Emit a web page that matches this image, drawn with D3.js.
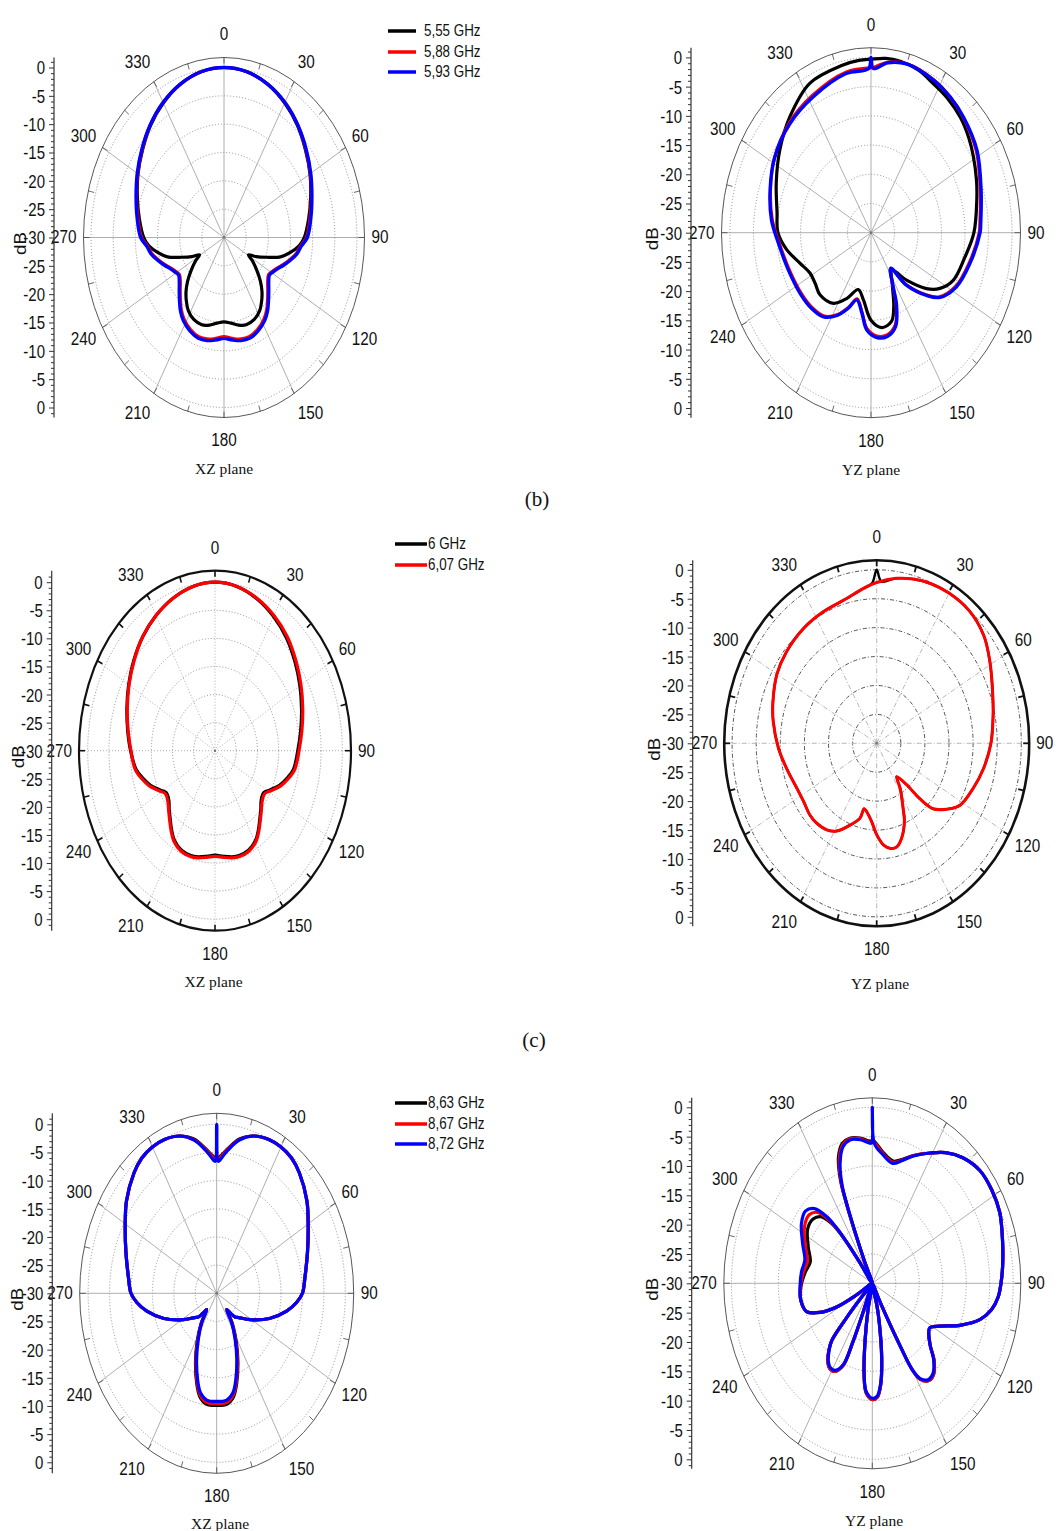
<!DOCTYPE html>
<html><head><meta charset="utf-8">
<script src="https://cdn.jsdelivr.net/npm/d3@7"></script>
<style>body{margin:0;background:#fff}svg{display:block}</style>
</head><body>
<svg id="c" width="1057" height="1531"></svg>
<script>
// ---------------- DATA ----------------
const angleLabels = [0,30,60,90,120,150,180,210,240,270,300,330];
const dbTicksTop = [0,-5,-10,-15,-20,-25,-30];
const dbTicksBottom = [-25,-20,-15,-10,-5,0];
const leg1 = ["5,55 GHz","5,88 GHz","5,93 GHz"];
const leg2 = ["6 GHz","6,07 GHz"];
const leg3 = ["8,63 GHz","8,67 GHz","8,72 GHz"];

// (b) XZ plane
const xz1Ang = [0,10,20,30,40,50,60,70,80,90,95,100,105,110,115,119,123,128,133,138,143,148,155,162,168,174,180,186,192,198,205,212,217,222,227,232,237,241,245,250,255,260,265,270,280,290,300,310,320,330,340,350];
const xz1_555 = [0,-0.3,-1.2,-2.6,-4.2,-6.0,-7.6,-9.2,-10.6,-11.9,-13.0,-14.8,-16.8,-19.8,-22.0,-23.7,-22.3,-20.6,-18.8,-17.2,-15.9,-14.8,-14.0,-13.8,-14.2,-14.8,-15.1,
  -14.8,-14.2,-13.8,-14.0,-14.8,-15.9,-17.2,-18.8,-20.6,-22.3,-23.7,-22.0,-19.8,-16.8,-14.8,-13.0,-11.9,-10.6,-9.2,-7.6,-6.0,-4.2,-2.6,-1.2,-0.3];
const xz1_588 = [0,-0.3,-1.2,-2.5,-4.1,-5.9,-7.5,-9.0,-10.3,-11.4,-12.7,-13.5,-14.7,-15.9,-17.0,-17.6,-18.0,-17.5,-16.5,-15.3,-14.0,-13.0,-12.1,-11.6,-11.7,-12.1,-12.5,
  -12.1,-11.7,-11.6,-12.1,-13.0,-14.0,-15.3,-16.5,-17.5,-18.0,-17.6,-17.0,-15.9,-14.7,-13.5,-12.7,-11.4,-10.3,-9.0,-7.5,-5.9,-4.1,-2.5,-1.2,-0.3];
const xz1_593 = [0,-0.3,-1.2,-2.5,-4.1,-5.8,-7.4,-8.9,-10.1,-11.2,-12.5,-13.3,-14.5,-15.7,-16.8,-17.4,-17.8,-17.2,-16.2,-15.0,-13.7,-12.7,-11.8,-11.3,-11.4,-11.8,-12.2,
  -11.8,-11.4,-11.3,-11.8,-12.7,-13.7,-15.0,-16.2,-17.2,-17.8,-17.4,-16.8,-15.7,-14.5,-13.3,-12.5,-11.2,-10.1,-8.9,-7.4,-5.8,-4.1,-2.5,-1.2,-0.3];

// (b) YZ plane
const yz1Ang555 = [0,6,12,20,27,35,44,52,59,68,76,90,102,115,123,129,137,145,153,159,164,172,180,188,195.6,204.7,213.5,225.6,234,242,251,261,270,280,293,306,319,333,348,355];
const yz1_555 = [-0.3,0,0,-0.4,-1.2,-1.8,-2.6,-3.6,-4.6,-5.8,-6.8,-8.1,-9.6,-10.7,-12.5,-14.8,-18.9,-22.2,-20.0,-16.5,-14.2,-13.6,-15.0,-18.4,-19.9,-17.6,-15.5,-14.8,-15.3,-15.3,-14.0,-11.8,-10.2,-9.7,-8.1,-6.0,-3.7,-1.3,-0.7,-0.4];
const yz1Ang593 = [0,1,7,15,27,36,45,58,73,86,90,104,117,127,132,140,145.4,153,156,162,169,176,183,188,194.7,200.5,207,215,224,235,250,265,276,289,302,317,332,349,359];
const yz1_588 = [-1.8,-1.7,-0.6,-0.1,-0.6,-1.3,-2.2,-3.6,-5.7,-6.8,-7.0,-8.5,-9.8,-11.8,-14.1,-18.5,-22.6,-19.8,-17.0,-13.4,-12.2,-12.3,-13.6,-16.3,-18.3,-16.4,-14.3,-12.6,-12.1,-11.9,-11.5,-10.4,-8.9,-7.4,-5.8,-4.4,-3.4,-2.0,-1.8];
const yz1_593 = [0,-1.9,-0.7,-0.15,-0.7,-1.3,-2.1,-3.4,-5.5,-6.6,-6.8,-8.3,-9.6,-11.6,-13.9,-18.3,-22.6,-19.6,-16.7,-13.1,-11.9,-12.0,-13.3,-16.1,-18.1,-16.2,-14.1,-12.4,-11.9,-11.7,-11.3,-10.2,-8.7,-7.3,-5.8,-4.6,-3.7,-2.25,-1.9];

// (c) XZ plane
const xz2Ang = [0,10,20,30,40,50,60,70,80,90,100,106,112,118,123,129,134,139,144,149,156,163,168,174,180,186,192,197,204,211,216,221,226,231,237,242,248,254,260,270,280,290,300,310,320,330,340,350];
const xz2_600 = [0,-0.3,-1.2,-2.4,-3.8,-5.4,-6.9,-8.3,-9.5,-10.5,-11.2,-12.3,-13.6,-15.2,-16.3,-16.0,-15.0,-13.9,-12.6,-11.4,-10.6,-10.5,-10.7,-11.1,-11.4,
  -11.1,-10.7,-10.5,-10.6,-11.4,-12.6,-13.9,-15.0,-16.0,-16.3,-15.2,-13.6,-12.3,-11.1,-10.1,-9.1,-7.9,-6.5,-5.0,-3.5,-2.2,-1.1,-0.3];
const xz2_607 = [0,-0.3,-1.1,-2.2,-3.5,-5.1,-6.6,-8.0,-9.2,-10.2,-10.9,-12.0,-13.3,-14.9,-16.0,-15.7,-14.8,-13.7,-12.4,-11.2,-10.4,-10.3,-10.5,-10.9,-11.2,
  -10.9,-10.5,-10.3,-10.4,-11.2,-12.4,-13.7,-14.8,-15.7,-16.0,-14.9,-13.3,-12.0,-10.9,-10.2,-9.2,-8.0,-6.6,-5.1,-3.5,-2.2,-1.1,-0.3];

// (c) YZ plane
const yz2Ang600 = [0,2,8,15,22,30,40,50,59,70,79,90,101,111,122,128,134,137,139,144.3,148,154,157,162.5,167,171,175.5,180,184.4,190,193,195,201.4,208.7,214.7,222,228,236.5,245,257,267.6,280,288.5,300,310,322.6,334,346,354,358];
const yz2_600 = [0,-2.0,-1.2,-0.6,-0.2,0,-0.1,-1.0,-2.6,-4.4,-5.4,-6.3,-7.4,-8.5,-9.7,-11.5,-13.7,-16.9,-20.5,-22.9,-20.8,-17.5,-15.3,-12.8,-11.6,-11.6,-12.4,-14.2,-16.4,-18.0,-18.4,-16.6,-14.8,-12.7,-11.8,-11.4,-11.4,-11.8,-11.7,-10.8,-9.6,-8.2,-7.3,-6.1,-5.5,-5.0,-4.7,-4.2,-3.1,-2.3];
const yz2Ang607 = [0,8,15,22,30,40,50,59,70,79,90,101,111,122,128,134,137,139,144.3,148,154,157,162.5,167,171,175.5,180,184.4,190,193,195,201.4,208.7,214.7,222,228,236.5,245,257,267.6,280,288.5,300,310,322.6,334,346,354];
const yz2_607 = [-2.2,-1.2,-0.6,-0.2,0,-0.1,-1.0,-2.6,-4.4,-5.4,-6.3,-7.4,-8.5,-9.7,-11.5,-13.7,-16.9,-20.5,-22.9,-20.8,-17.5,-15.3,-12.8,-11.6,-11.6,-12.4,-14.2,-16.4,-18.0,-18.4,-16.6,-14.8,-12.7,-11.8,-11.4,-11.4,-11.8,-11.7,-10.8,-9.6,-8.2,-7.3,-6.1,-5.5,-5.0,-4.7,-4.2,-3.1];

// (d) XZ plane
const xz3Ang = [0,1,3,6,11,17,24,30,36,42,52,61,71,82,90,95,101,110,121,130,134,138,141,146,152,158,164,168,173,180,187,192,196,202,208,214,219,222,226,230,239,250,259,265,270,278,289,299,308,318,324,330,336,343,349,354,357,359];
const xz3_863 = [-5.9,-5.9,-5.3,-4.1,-2.1,-0.8,-0.1,0,-0.3,-1.2,-3.3,-5.6,-7.6,-9.2,-10.0,-11.3,-13.4,-16.9,-20.9,-23.3,-23.9,-25.3,-26.3,-23.4,-20.3,-16.8,-13.2,-11.2,-10.2,-10.1,
  -10.2,-11.2,-13.2,-16.8,-20.3,-23.4,-26.3,-25.3,-23.9,-23.3,-20.9,-16.9,-13.4,-11.3,-10.0,-9.2,-7.6,-5.6,-3.3,-1.2,-0.3,0,-0.1,-0.8,-2.1,-4.1,-5.3,-5.9];
const xz3_867 = [-6.2,-6.2,-5.5,-4.2,-2.2,-0.8,-0.1,0,-0.3,-1.2,-3.3,-5.6,-7.6,-9.2,-10.0,-11.3,-13.4,-16.9,-20.9,-23.3,-23.9,-25.3,-26.3,-23.6,-20.6,-17.1,-13.5,-11.5,-10.5,-10.4,
  -10.5,-11.5,-13.5,-17.1,-20.6,-23.6,-26.3,-25.3,-23.9,-23.3,-20.9,-16.9,-13.4,-11.3,-10.0,-9.2,-7.6,-5.6,-3.3,-1.2,-0.3,0,-0.1,-0.8,-2.2,-4.2,-5.5,-6.2];
const xz3_872 = [0,-6.6,-5.8,-4.4,-2.3,-0.8,-0.1,0,-0.3,-1.2,-3.3,-5.6,-7.6,-9.2,-10.0,-11.3,-13.4,-16.9,-20.9,-23.3,-23.9,-25.3,-26.3,-23.8,-20.9,-17.5,-13.9,-11.9,-10.9,-10.8,
  -10.9,-11.9,-13.9,-17.5,-20.9,-23.8,-26.3,-25.3,-23.9,-23.3,-20.9,-16.9,-13.4,-11.3,-10.0,-9.2,-7.6,-5.6,-3.3,-1.2,-0.3,0,-0.1,-0.8,-2.3,-4.4,-5.8,-6.6];

// (d) YZ plane
const yz3Ang = [0,1,6,12,17,22,29,35,42,50,58,66,75,84,90,95,100,105,111,117,122,130,135,140,144,148,150,151,152.5,159,165.5,167.6,171,174,177,180,184,186.5,189,191.5,196.5,201.5,202.5,204,208,212,215,219,221.5,223,224,232,239.5,242,246,251,259.5,268,277.5,285.5,294.5,304,311,316,319.5,321,322,323,330,336,337,338,339,341.5,345,349,354,358,359.5];
const yz3_863 = [-5.8,-5.8,-7.6,-8.7,-7.9,-6.5,-4.6,-2.8,-1.2,-0.1,
  0,-0.3,-1.3,-2.1,-2.6,-3.1,-4.2,-6.2,-10.0,-13.9,
  -15.6,-14.0,-11.4,-9.7,-9.5,-10.7,-13.0,-18.0,-26.0,-30,
  -26.0,-23.0,-17.2,-12.7,-10.5,-10.2,-11.3,-14.5,-20.2,-25.5,
  -30,-25.0,-19.0,-14.6,-13.0,-12.9,-13.5,-15.3,-17.0,-22.0,
  -26.5,-30,-26.0,-21.4,-17.8,-15.2,-14.5,-14.8,-15.6,-16.3,
  -15.0,-13.4,-13.3,-14.2,-16.5,-18.5,-21.0,-25.5,-30,-26.0,
  -21.0,-15.0,-11.0,-7.3,-5.3,-4.8,-5.1,-5.7,-5.8];
const yz3_867 = [-6.0,-6.0,-7.8,-8.9,-8.0,-6.5,-4.6,-2.8,-1.2,-0.1,
  0,-0.3,-1.3,-2.1,-2.6,-3.1,-4.2,-6.2,-10.0,-13.9,
  -15.6,-14.0,-11.4,-9.7,-9.5,-10.7,-13.0,-18.0,-26.0,-30,
  -26.0,-23.0,-17.2,-12.7,-10.5,-10.2,-11.3,-14.5,-20.2,-25.5,
  -30,-25.0,-19.0,-14.6,-13.0,-12.9,-13.5,-15.3,-17.0,-22.0,
  -26.5,-30,-26.0,-21.4,-17.8,-15.2,-14.5,-14.7,-15.2,-15.7,
  -14.3,-12.6,-12.2,-13.2,-15.8,-18.0,-20.8,-25.5,-30,-26.0,
  -21.5,-15.5,-11.5,-7.8,-5.6,-4.9,-5.2,-5.9,-6.0];
const yz3_872 = [0,-6.1,-8.0,-9.1,-8.1,-6.6,-4.6,-2.8,-1.2,-0.1,
  0,-0.3,-1.3,-2.1,-2.6,-3.1,-4.2,-6.2,-10.0,-13.9,
  -15.6,-14.0,-11.5,-9.9,-9.7,-10.9,-13.0,-18.0,-26.0,-30,
  -26.0,-23.0,-17.3,-12.9,-10.7,-10.4,-11.5,-14.6,-20.2,-25.5,
  -30,-25.0,-19.0,-14.8,-13.2,-13.1,-13.7,-15.4,-17.0,-22.0,
  -26.5,-30,-26.0,-21.4,-17.8,-15.2,-14.5,-14.6,-14.8,-15.1,
  -13.7,-11.8,-11.2,-12.3,-15.1,-17.5,-20.5,-25.5,-30,-26.0,
  -22.0,-16.0,-12.0,-8.4,-5.9,-5.1,-5.4,-6.0,-6.1];

// ---------------- LAYOUT / STYLE ----------------
const BLACK="#000", RED="#ff0000", BLUE="#0000ff";
const SANS="'Liberation Sans', Arial, Helvetica, sans-serif";
const SERIF="'Liberation Serif','Times New Roman',serif";

const styles = {
  thin:{outer:"#444", outerW:0.9, spoke:"#9a9a9a", spokeW:0.8, spokeDash:null, ring:"#777", ringW:0.8, ringDash:"1,2", tick:"#444", tickW:0.8},
  dotted:{outer:"#111", outerW:2.2, spoke:"#999", spokeW:0.8, spokeDash:"1,2", ring:"#777", ringW:0.8, ringDash:"1,2", tick:"#111", tickW:1.6},
  dashdot:{outer:"#111", outerW:2.6, spoke:"#b0b0b0", spokeW:0.9, spokeDash:"5,2,1,2", ring:"#555", ringW:1.0, ringDash:"4,2,1,2", tick:"#111", tickW:1.8}
};

const panels = [
  {cx:224, cy:237.5, rx0:133, ry0:170, orx:140.5, ory:180, axisX:54, kind:"thin",
   plane:"XZ plane", planeX:224, planeY:468, dbX:21,
   series:[{a:xz1Ang,v:xz1_555,c:BLACK,w:3.2},{a:xz1Ang,v:xz1_588,c:RED,w:3.2},{a:xz1Ang,v:xz1_593,c:BLUE,w:3.4}],
   legend:{labels:leg1, colors:[BLACK,RED,BLUE], x1:388, x2:416, ys:[31,52,72], tx:424}},
  {cx:871, cy:232.7, rx0:141, ry0:175.3, orx:149.5, ory:185, axisX:691, kind:"thin",
   plane:"YZ plane", planeX:871, planeY:469, dbX:653,
   series:[{a:yz1Ang555,v:yz1_555,c:BLACK,w:3.2},{a:yz1Ang593,v:yz1_588,c:RED,w:3},{a:yz1Ang593,v:yz1_593,c:BLUE,w:3.4}]},
  {cx:215, cy:750.7, rx0:127.3, ry0:168.5, orx:136, ory:180, axisX:51.7, kind:"dotted",
   plane:"XZ plane", planeX:213.5, planeY:981, dbX:19,
   series:[{a:xz2Ang,v:xz2_600,c:BLACK,w:3.2},{a:xz2Ang,v:xz2_607,c:RED,w:3.2}],
   legend:{labels:leg2, colors:[BLACK,RED], x1:395, x2:427, ys:[544,565], tx:428}},
  {cx:876.7, cy:743.3, rx0:144.6, ry0:173.5, orx:152.5, ory:183, axisX:692.7, kind:"dashdot",
   plane:"YZ plane", planeX:880, planeY:983, dbX:655,
   series:[{a:yz2Ang600,v:yz2_600,c:BLACK,w:2.4},{a:yz2Ang607,v:yz2_607,c:RED,w:3}]},
  {cx:216.7, cy:1293.3, rx0:128.6, ry0:169, orx:137, ory:180, axisX:52.3, kind:"thin",
   plane:"XZ plane", planeX:220, planeY:1523, dbX:18,
   series:[{a:xz3Ang,v:xz3_863,c:BLACK,w:3.2},{a:xz3Ang,v:xz3_867,c:RED,w:3.2},{a:xz3Ang,v:xz3_872,c:BLUE,w:3.2}],
   legend:{labels:leg3, colors:[BLACK,RED,BLUE], x1:395, x2:427, ys:[1103,1124,1144], tx:428}},
  {cx:872.3, cy:1283.3, rx0:140.9, ry0:176, orx:148.5, ory:185.5, axisX:691.7, kind:"thin",
   plane:"YZ plane", planeX:874, planeY:1520, dbX:653,
   series:[{a:yz3Ang,v:yz3_863,c:BLACK,w:3.2},{a:yz3Ang,v:yz3_867,c:RED,w:3.2},{a:yz3Ang,v:yz3_872,c:BLUE,w:3.2}]}
];

// ---------------- DRAW ----------------
const svg = d3.select("#c");
const rad = d => d*Math.PI/180;
const STRETCH = 1.18;

function drawPanel(p){
  const st = styles[p.kind];
  const g = svg.append("g");
  const r = d3.scaleLinear().domain([-30,0]).range([0,1]).clamp(true);
  const pt = (a,v) => [p.cx + p.rx0*r(v)*Math.sin(rad(a)), p.cy - p.ry0*r(v)*Math.cos(rad(a))];

  // rings
  g.selectAll("ellipse.ring").data(d3.range(-25,1,5)).join("ellipse").attr("class","ring")
    .attr("cx",p.cx).attr("cy",p.cy).attr("rx",v=>p.rx0*r(v)).attr("ry",v=>p.ry0*r(v))
    .attr("fill","none").attr("stroke",st.ring).attr("stroke-width",st.ringW).attr("stroke-dasharray",st.ringDash);
  // spokes
  g.selectAll("line.spoke").data(angleLabels).join("line").attr("class","spoke")
    .attr("x1",p.cx).attr("y1",p.cy)
    .attr("x2",a=>p.cx+p.orx*Math.sin(rad(a))).attr("y2",a=>p.cy-p.ory*Math.cos(rad(a)))
    .attr("stroke",st.spoke).attr("stroke-width",st.spokeW).attr("stroke-dasharray",st.spokeDash);
  // outer ellipse
  g.append("ellipse").attr("cx",p.cx).attr("cy",p.cy).attr("rx",p.orx).attr("ry",p.ory)
    .attr("fill","none").attr("stroke",st.outer).attr("stroke-width",st.outerW);
  // ticks on outer ellipse
  const tl = 6;
  g.selectAll("line.otick").data(d3.range(0,360,15)).join("line").attr("class","otick")
    .attr("x1",a=>p.cx+p.orx*Math.sin(rad(a))).attr("y1",a=>p.cy-p.ory*Math.cos(rad(a)))
    .attr("x2",a=>p.cx+(p.orx-tl)*Math.sin(rad(a))).attr("y2",a=>p.cy-(p.ory-tl)*Math.cos(rad(a)))
    .attr("stroke",st.tick).attr("stroke-width",st.tickW);
  // center dot
  g.append("circle").attr("cx",p.cx).attr("cy",p.cy).attr("r",1.3).attr("fill","#777");

  // curves
  const line = d3.line().curve(d3.curveCatmullRomClosed.alpha(0.5));
  p.series.forEach(s=>{
    const pts = s.a.map((a,i)=>pt(a,s.v[i]));
    g.append("path").attr("d",line(pts)).attr("fill","none").attr("stroke",s.c)
      .attr("stroke-width",s.w).attr("stroke-linejoin","round");
  });

  // angle labels
  g.selectAll("text.ang").data(angleLabels).join("text").attr("class","ang")
    .attr("transform",a=>`translate(${p.cx+(p.orx+7)*Math.sin(rad(a))},${p.cy-(p.ory+23)*Math.cos(rad(a))}) scale(1,${STRETCH})`)
    .attr("text-anchor",a=>{const s=Math.sin(rad(a)); return s>0.1?"start":(s<-0.1?"end":"middle");})
    .attr("dominant-baseline","central")
    .attr("font-family",SANS).attr("font-size",15.3).attr("fill","#111")
    .text(a=>a);

  // radial axis
  const yTop = d3.scaleLinear().domain([-30,0]).range([p.cy,p.cy-p.ry0]);
  const yBot = d3.scaleLinear().domain([-30,0]).range([p.cy,p.cy+p.ry0]);
  const ax = g.append("g").attr("transform",`translate(${p.axisX},0)`);
  const minorVals = d3.range(-29,2).filter(d=>d%5!==0);
  [yTop,yBot].forEach((sc,i)=>{
    ax.append("g").call(d3.axisLeft(sc).tickValues(minorVals).tickSize(3).tickFormat(""))
      .call(a=>a.select(".domain").remove());
    ax.append("g").call(d3.axisLeft(sc).tickValues(i===0?dbTicksTop:dbTicksBottom).tickSize(5).tickPadding(4).tickFormat(d=>String(d)))
      .call(a=>a.select(".domain").remove())
      .call(a=>a.selectAll("text").attr("font-family",SANS).attr("font-size",15).attr("fill","#111")
              .attr("dy",null).attr("dominant-baseline","central").attr("transform",`scale(1,${STRETCH})`));
  });
  ax.selectAll("line").attr("stroke","#333");
  ax.append("line").attr("x1",0).attr("x2",0).attr("y1",p.cy-p.ory).attr("y2",p.cy+p.ory)
    .attr("stroke","#333").attr("stroke-width",1.2);

  // dB label
  g.append("text").attr("transform",`translate(${p.dbX},${p.cy+6}) rotate(-90) scale(${STRETCH},1)`)
    .attr("text-anchor","middle").attr("dominant-baseline","central")
    .attr("font-family",SANS).attr("font-size",16).attr("fill","#111").text("dB");

  // plane label
  g.append("text").attr("x",p.planeX).attr("y",p.planeY).attr("text-anchor","middle")
    .attr("dominant-baseline","central").attr("font-family",SERIF).attr("font-size",15.5)
    .attr("fill","#111").text(p.plane);

  // legend
  if(p.legend){
    const L = p.legend;
    L.labels.forEach((lab,i)=>{
      g.append("line").attr("x1",L.x1).attr("x2",L.x2).attr("y1",L.ys[i]).attr("y2",L.ys[i])
        .attr("stroke",L.colors[i]).attr("stroke-width",3.5);
      g.append("text").attr("transform",`translate(${L.tx},${L.ys[i]}) scale(1,${STRETCH})`)
        .attr("dominant-baseline","central")
        .attr("font-family",SANS).attr("font-size",13.4).attr("fill","#111").text(lab);
    });
  }
}
panels.forEach(drawPanel);

// captions
svg.append("text").attr("x",537).attr("y",499).attr("text-anchor","middle").attr("dominant-baseline","central")
  .attr("font-family",SERIF).attr("font-size",21).attr("fill","#111").text("(b)");
svg.append("text").attr("x",534).attr("y",1040).attr("text-anchor","middle").attr("dominant-baseline","central")
  .attr("font-family",SERIF).attr("font-size",21).attr("fill","#111").text("(c)");
</script>
</body></html>
